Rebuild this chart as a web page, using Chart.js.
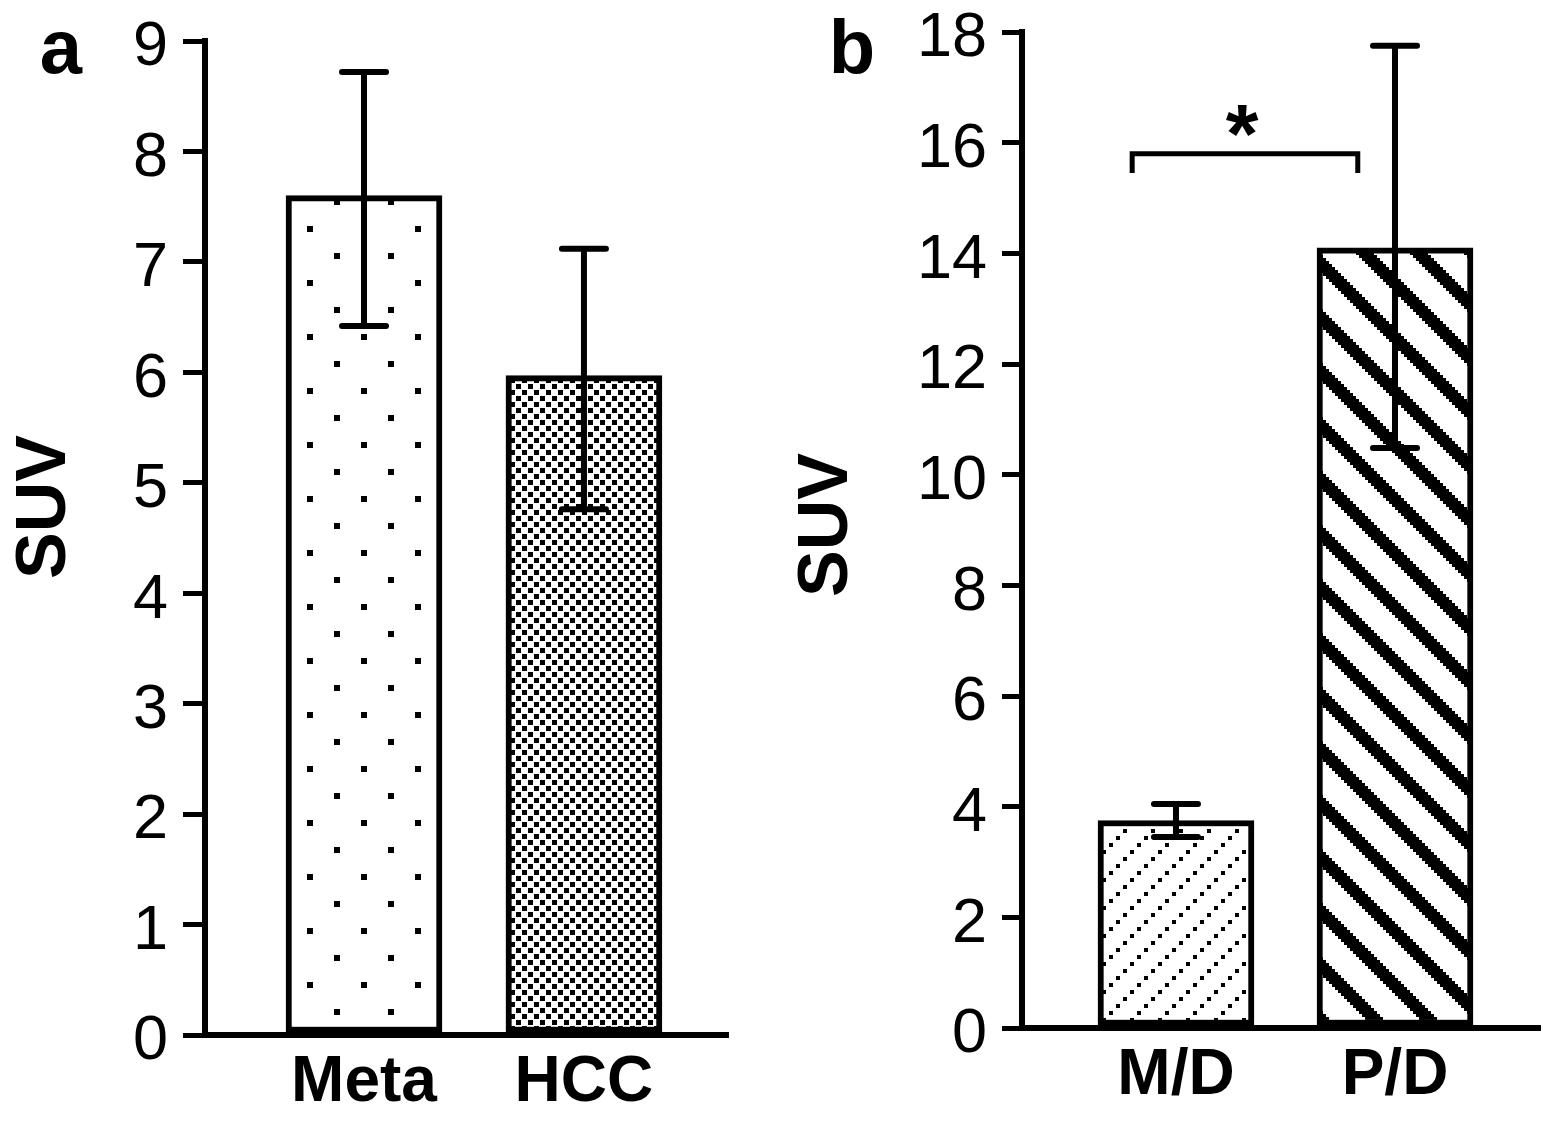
<!DOCTYPE html>
<html><head><meta charset="utf-8">
<script src="https://cdn.jsdelivr.net/npm/chart.js@4.4.0/dist/chart.umd.min.js"></script>
<style>
html,body{margin:0;padding:0;background:#fff;width:1559px;height:1124px;overflow:hidden}
canvas{position:absolute;top:0}
#ca{left:0}
#cb{left:780px}
</style></head><body>
<canvas id="ca" width="780" height="1124"></canvas>
<canvas id="cb" width="779" height="1124"></canvas>
<script>
// ---- Panel a data ----
const categoriesA = ['Meta', 'HCC'];
const meansA = [7.6, 5.97];
const upperA = [8.72, 7.12];
const lowerA = [6.42, 4.76];
const yTicksA = [0, 1, 2, 3, 4, 5, 6, 7, 8, 9];

// ---- Panel b data ----
const categoriesB = ['M/D', 'P/D'];
const meansB = [3.75, 14.1];
const upperB = [4.05, 17.75];
const lowerB = [3.45, 10.48];
const yTicksB = [0, 2, 4, 6, 8, 10, 12, 14, 16, 18];

// significance bracket (category units / SUV units)
const bracketFromB = -0.2;
const bracketToB = 0.83;
const bracketYB = 15.8;
const bracketTipB = 15.45;
const bracketLabelB = '*';

const yTitle = 'SUV';
const FONT = "'Liberation Sans', Arial, sans-serif";

function makeTile(w, h, draw) {
  const c = document.createElement('canvas');
  c.width = w; c.height = h;
  const g = c.getContext('2d');
  g.fillStyle = '#fff'; g.fillRect(0, 0, w, h);
  g.fillStyle = '#000';
  draw(g, w, h);
  return c;
}
const tileDots = makeTile(54, 54, g => { g.fillRect(37, 10, 6, 6); g.fillRect(10, 37, 6, 6); });
const tileChecker = makeTile(12, 12, g => { g.fillRect(0, 0, 5, 5); g.fillRect(6, 6, 5, 5); });
const tileDotDiag = makeTile(28, 28, g => { for (let k = 0; k < 4; k++) g.fillRect(7 * k, 24 - 7 * k, 4, 4); });
const tileStripe = makeTile(54, 54, g => {
  for (let i = 0; i < 18; i++) for (let j = 0; j < 18; j++) {
    if ((((i - j) % 18) + 18) % 18 < 6) g.fillRect(i * 3, j * 3, 3, 3);
  }
});

function errorBarPlugin(upper, lower) {
  return {
    id: 'errbars',
    afterDatasetsDraw(chart) {
      const ctx = chart.ctx, ys = chart.scales.y;
      const meta = chart.getDatasetMeta(0);
      ctx.save();
      ctx.strokeStyle = '#000'; ctx.lineWidth = 6; ctx.lineCap = 'round';
      meta.data.forEach((bar, i) => {
        const x = bar.x, yt = ys.getPixelForValue(upper[i]), yb = ys.getPixelForValue(lower[i]);
        ctx.beginPath();
        ctx.moveTo(x, yt); ctx.lineTo(x, yb);
        ctx.moveTo(x - 22, yt); ctx.lineTo(x + 22, yt);
        ctx.moveTo(x - 22, yb); ctx.lineTo(x + 22, yb);
        ctx.stroke();
      });
      ctx.restore();
    }
  };
}
function labelsPlugin(letter, lx, ly, tx, ty) {
  return {
    id: 'labels',
    afterDraw(chart) {
      const ctx = chart.ctx;
      ctx.save();
      ctx.fillStyle = '#000';
      ctx.font = 'bold 76px ' + FONT;
      ctx.textAlign = 'center'; ctx.textBaseline = 'alphabetic';
      ctx.fillText(letter, lx, ly);
      ctx.translate(tx, ty);
      ctx.rotate(-Math.PI / 2);
      ctx.font = 'bold 70px ' + FONT;
      ctx.textBaseline = 'middle';
      ctx.fillText(yTitle, 0, 0);
      ctx.restore();
    }
  };
}
const bracketPlugin = {
  id: 'bracket',
  afterDatasetsDraw(chart) {
    const ctx = chart.ctx, xs = chart.scales.x, ys = chart.scales.y;
    const x1 = xs.getPixelForValue(bracketFromB), x2 = xs.getPixelForValue(bracketToB);
    const y = ys.getPixelForValue(bracketYB), yt = ys.getPixelForValue(bracketTipB);
    ctx.save();
    ctx.strokeStyle = '#000'; ctx.lineWidth = 5; ctx.lineCap = 'butt'; ctx.lineJoin = 'miter';
    ctx.beginPath();
    ctx.moveTo(x1, yt); ctx.lineTo(x1, y); ctx.lineTo(x2, y); ctx.lineTo(x2, yt);
    ctx.stroke();
    ctx.fillStyle = '#000';
    ctx.font = 'bold 84px ' + FONT;
    ctx.textAlign = 'center'; ctx.textBaseline = 'alphabetic';
    ctx.fillText(bracketLabelB, (x1 + x2) / 2 - 3, y + 9);
    ctx.restore();
  }
};

function makeChart(id, cats, means, patterns, yTicks, yMax, cfg, plugins) {
  return new Chart(document.getElementById(id), {
    type: 'bar',
    data: {
      datasets: [{
        data: cats.map((c, i) => ({ x: i, y: means[i] })),
        backgroundColor: patterns,
        borderColor: '#000',
        borderWidth: 6,
        borderSkipped: false,
        barThickness: 156
      }]
    },
    options: {
      responsive: false, animation: false, devicePixelRatio: 1,
      layout: { padding: { left: 0, top: cfg.top, right: cfg.right, bottom: 0 } },
      plugins: { legend: { display: false }, tooltip: { enabled: false } },
      scales: {
        x: {
          type: 'linear', min: cfg.xmin, max: cfg.xmax, offset: false,
          grid: { display: false },
          border: { display: true, color: '#000', width: 6 },
          afterBuildTicks: s => { s.ticks = cats.map((c, i) => ({ value: i })); },
          ticks: { callback: v => cats[v], font: { family: FONT, size: 64, weight: 'bold', lineHeight: 1 }, color: '#000', padding: 8, maxRotation: 0, autoSkip: false },
          afterFit: s => { s.height = cfg.xh; }
        },
        y: {
          min: 0, max: yMax,
          afterBuildTicks: s => { s.ticks = yTicks.map(v => ({ value: v })); },
          grid: { drawOnChartArea: false, color: '#000', lineWidth: 5, tickLength: cfg.tl },
          border: { color: '#000', width: 6 },
          ticks: { font: { family: FONT, size: 63, lineHeight: 0.5 }, color: '#000', padding: 15, labelOffset: 7 },
          title: { display: false },
          afterFit: s => { s.width = cfg.yw; }
        }
      }
    },
    plugins: plugins
  });
}

const ctxA = document.getElementById('ca').getContext('2d');
const ctxB = document.getElementById('cb').getContext('2d');
const patA = [ctxA.createPattern(tileDots, 'repeat'), ctxA.createPattern(tileChecker, 'repeat')];
const patB = [ctxB.createPattern(tileDotDiag, 'repeat'), ctxB.createPattern(tileStripe, 'repeat')];

makeChart('ca', categoriesA, meansA, patA, yTicksA, 9,
  { top: 41, right: 52, xmin: -0.723, xmax: 1.655, xh: 89, yw: 205, tl: 22 },
  [errorBarPlugin(upperA, lowerA), labelsPlugin('a', 61, 73, 46, 507)]);

makeChart('cb', categoriesB, meansB, patB, yTicksB, 18,
  { top: 32, right: 19, xmin: -0.703, xmax: 1.662, xh: 96, yw: 242, tl: 20 },
  [errorBarPlugin(upperB, lowerB), bracketPlugin, labelsPlugin('b', 72, 73, 48, 525)]);
</script>
</body></html>
